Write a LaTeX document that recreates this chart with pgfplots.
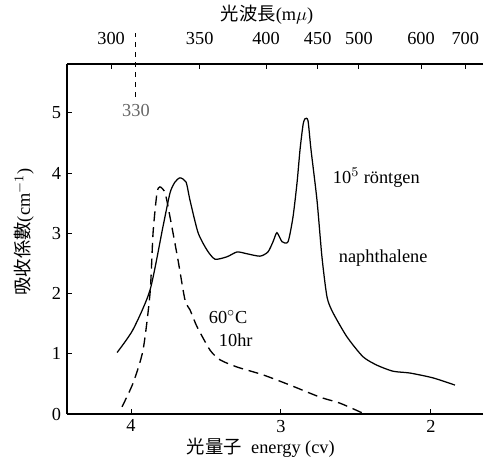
\documentclass[border=0pt]{standalone}
\usepackage{fontspec}
\setmainfont{Liberation Serif}
\newfontfamily\cjk{Noto Sans CJK JP}
\usepackage{pgfplots}
\pgfplotsset{compat=1.18}

% naphthalene, 10^5 roentgen (solid)
\pgfplotstableread{
E     k
4.093 1.02
3.987 1.40
3.873 2.06
3.787 3.11
3.740 3.67
3.707 3.85
3.673 3.92
3.633 3.85
3.607 3.55
3.553 3.01
3.493 2.72
3.440 2.57
3.360 2.61
3.293 2.69
3.227 2.66
3.140 2.62
3.087 2.69
3.053 2.86
3.027 3.01
2.993 2.86
2.953 2.86
2.920 3.27
2.893 3.84
2.873 4.39
2.853 4.80
2.840 4.90
2.820 4.87
2.800 4.39
2.760 3.55
2.727 2.61
2.693 1.94
2.653 1.68
2.560 1.28
2.453 0.95
2.360 0.81
2.253 0.71
2.140 0.68
1.987 0.60
1.840 0.48
}\roentgen

% 60 C, 10 hr (dashed)
\pgfplotstableread{
E     k
4.060 0.12
3.987 0.51
3.920 1.06
3.873 2.01
3.853 3.01
3.827 3.67
3.807 3.77
3.773 3.67
3.740 3.27
3.687 2.56
3.640 1.89
3.607 1.73
3.560 1.45
3.473 1.06
3.407 0.90
3.293 0.78
3.120 0.65
2.940 0.48
2.740 0.28
2.607 0.18
2.460 0.02
}\heated

\begin{document}
\begin{tikzpicture}[font=\fontsize{11}{13}\selectfont]
\pgfplotsset{
  every axis/.append style={
    scale only axis, width=249.6pt, height=210pt,
    xmin=1.653, xmax=4.427, ymin=0, ymax=5.81,
    x dir=reverse, clip=false,
    axis line style={line width=0.9pt},
    major tick length=3pt,
    tick style={black, line width=0.6pt},
    /pgf/number format/assume math mode=true,
  }
}
\begin{axis}[
  axis x line*=bottom, axis y line*=left,
  xtick={2,3,4}, ytick={0,1,2,3,4,5},
  xlabel={{\cjk 光量子}\ \ energy (cv)},
  ylabel={{\cjk 吸收係數}(cm$^{-1}$)},
  xlabel style={at={(axis description cs:0.466,-0.097)}, anchor=center},
  ylabel style={at={(axis description cs:-0.103,0.52)}, anchor=center, rotate=0},
]
\addplot[black, line width=0.75pt, smooth, tension=0.4] table[x=E, y=k] {\roentgen};
\addplot[black, line width=0.8pt, dash pattern=on 6pt off 3.5pt, smooth, tension=0.4] table[x=E, y=k] {\heated};
\addplot[black, line width=0.6pt, dash pattern=on 3pt off 3pt] coordinates {(3.973,5.27) (3.973,6.33)};

\node[anchor=west] at (axis cs:2.693,3.92) {10$^5$ röntgen};
\node[anchor=west] at (axis cs:2.653,2.59) {naphthalene};
\node[anchor=west] at (axis cs:3.52,1.61) {60$^{\circ}$C};
\node[anchor=west] at (axis cs:3.453,1.23) {10hr};
\node[black!60] at (axis cs:3.967,5.03) {330};
\end{axis}

\begin{axis}[
  axis x line*=top, axis y line=none,
  xtick={4.133,3.542,3.0995,2.755,2.48,2.066,1.771},
  xticklabels={300,350,400,450,500,600,700},
  xticklabel style={yshift=8pt},
  xlabel={{\cjk 光波長}(m$\mu$)},
  xlabel style={at={(axis description cs:0.481,1.14)}, anchor=center},
]
\end{axis}
\pgfresetboundingbox
\path (-40.2pt,-30pt) rectangle (250.8pt,248.4pt);
\end{tikzpicture}
\end{document}
